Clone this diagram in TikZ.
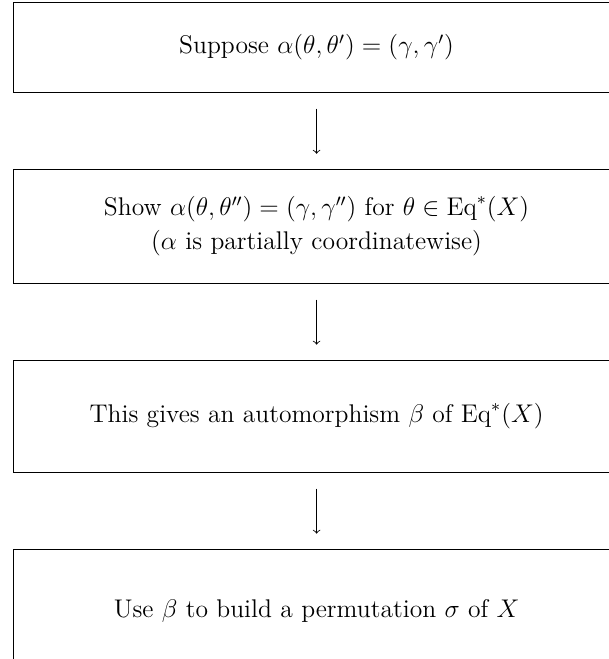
\documentclass[tikz,border=0pt]{standalone}
\usepackage{amsmath,amssymb}
\usetikzlibrary{positioning, arrows}
\tikzstyle{stepbox} = [rectangle, 
minimum width=10cm, 
minimum height=1.485cm, 
text centered, 
align=center,
draw=black]
\tikzstyle{arrow} = [->, shorten >=0.25cm, shorten <=0.26cm]

\begin{document}
\begin{tikzpicture}[node distance=1.254cm, font=\large]

% fixed frame, the right and bottom edges fall outside
\useasboundingbox (0,0) rectangle (10.03,-10.87);

\node (suppose) [stepbox, below right] at (0.215,-0.033) 
                {Suppose $\alpha(\theta,\theta') = (\gamma,\gamma')$};
\node (show_coord) [stepbox, below=of suppose, minimum height=1.88cm] 
                   {Show $\alpha(\theta,\theta'') = (\gamma,\gamma'')$ for $\theta \in \mathrm{Eq}^*(X)$\\[2pt]
                    ($\alpha$ is partially coordinatewise)};
\node (auto_beta) [stepbox, below=of show_coord, minimum height=1.85cm] 
                  {This gives an automorphism $\beta$ of $\mathrm{Eq}^*(X)$};
\node (build_sigma) [stepbox, below=of auto_beta, minimum height=2.05cm] 
                    {Use $\beta$ to build a permutation $\sigma$ of $X$};

\draw [arrow] (suppose) -- (show_coord);
\draw [arrow] (show_coord) -- (auto_beta);
\draw [arrow] (auto_beta) -- (build_sigma);

\end{tikzpicture}
\end{document}
